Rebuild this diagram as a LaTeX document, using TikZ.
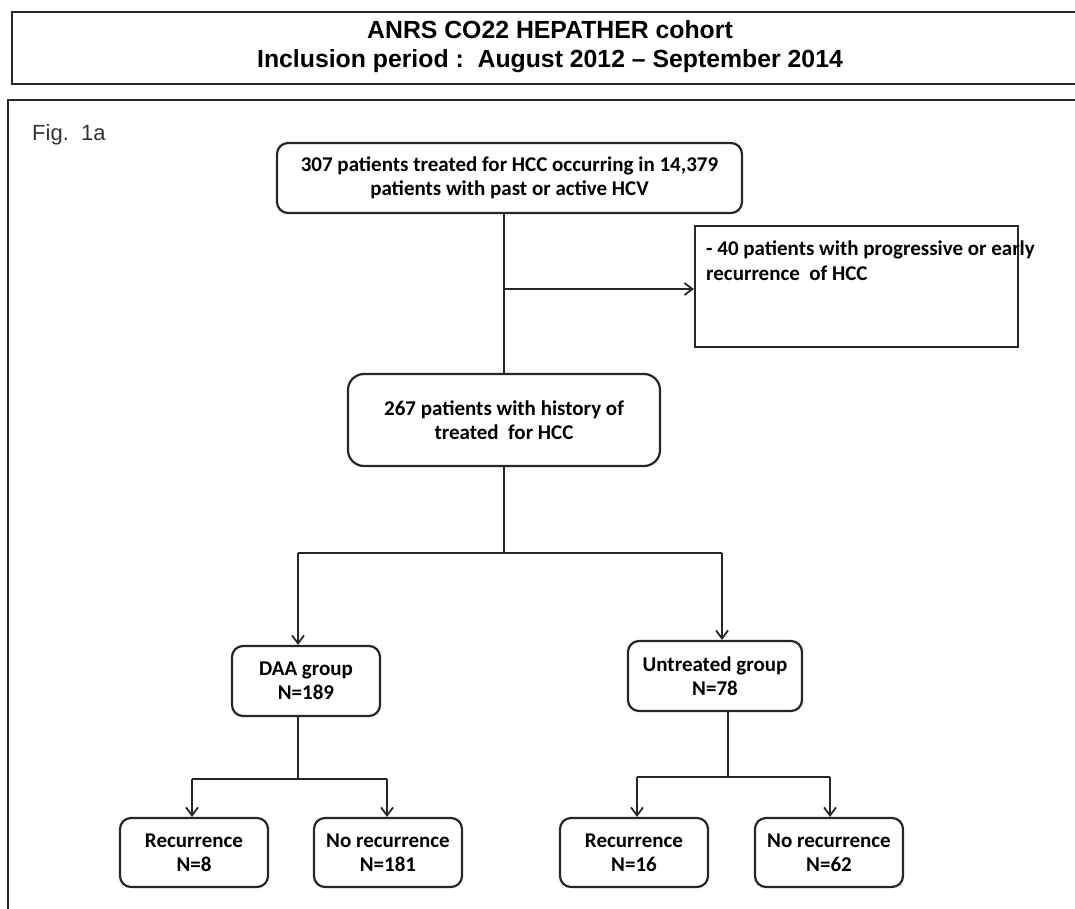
\documentclass[tikz,border=0pt]{standalone}
\usepackage{fontspec}
\setmainfont{Carlito}
\newfontfamily\arialfont{Liberation Sans}
\usetikzlibrary{arrows.meta,positioning}

\tikzset{
  link/.style={draw=black!85, line width=2.2pt},
  arr/.style={link, -{Straight Barb[length=8pt,width=12pt,line width=1.8pt]}},
  box/.style={link, rounded corners=11pt, align=center, inner sep=0pt, font=\bfseries\fontsize{21}{24}\selectfont},
  exbox/.style={link, inner sep=0pt}
}

\begin{document}
\begin{tikzpicture}[x=1pt,y=-1pt]
\useasboundingbox (0,0) rectangle (1075,908);
\clip (0,0) rectangle (1075,908);
% frames
\draw[link] (12,12) rectangle (1090,84);
\draw[link] (8,100) rectangle (1090,930);
\node[font=\arialfont\bfseries\fontsize{24.8}{29}\selectfont, align=center, inner sep=0pt, anchor=base] (title) at (550,67)
  {ANRS CO22 HEPATHER cohort\\Inclusion period :\ \ August 2012 – September 2014};
\node[font=\arialfont\fontsize{22}{26}\selectfont, text=black!80, anchor=west, inner sep=0pt] (fig) at (32,135) {Fig.\ \ 1a};

% boxes
\node[box, minimum width=465, minimum height=70] (hcc) at (509.5,178)
  {307 patients treated for HCC occurring in 14,379\\patients with past or active HCV};
\node[exbox, minimum width=323, minimum height=121] (excl) at (856.5,286.5) {};
\node[anchor=base west, align=left, inner sep=0pt, font=\bfseries\fontsize{21}{25}\selectfont] (excltxt) at (706,280)
  {- 40 patients with progressive or early\\recurrence\ \ of HCC};
\node[box, rounded corners=16pt, minimum width=312, minimum height=92] (mid) at (504,420)
  {267 patients with history of\\treated\ \ for HCC};
\node[box, minimum width=148, minimum height=70] (daa) at (306,681) {DAA group\\N=189};
\node[box, minimum width=174, minimum height=70] (untr) at (715,676) {Untreated group\\N=78};
\node[box, minimum width=148, minimum height=69] (rec1) at (194,852.5) {Recurrence\\N=8};
\node[box, minimum width=148, minimum height=69] (norec1) at (388,852.5) {No recurrence\\N=181};
\node[box, minimum width=148, minimum height=69] (rec2) at (634,852.5) {Recurrence\\N=16};
\node[box, minimum width=148, minimum height=69] (norec2) at (829,852.5) {No recurrence\\N=62};

% connectors
\coordinate (exbranch) at (504,289);
\coordinate (split) at (504,553);
\coordinate (jl) at (298,553);
\coordinate (jr) at (722,553);
\coordinate (dsplit) at (298,779);
\coordinate (dl) at (192,779);
\coordinate (dr) at (387,779);
\coordinate (usplit) at (728,777);
\coordinate (ul) at (637,777);
\coordinate (ur) at (830,777);

\draw[link] (hcc.south -| mid.north) -- (mid.north);
\draw[arr] (exbranch) -- (exbranch -| excl.west);
\draw[link] (mid.south) -- (split);
\draw[link] (jl) -- (jr);
\draw[arr] (jl) -- (jl |- daa.north);
\draw[arr] (jr) -- (jr |- untr.north);

\draw[link] (dsplit |- daa.south) -- (dsplit);
\draw[link] (dl) -- (dr);
\draw[arr] (dl) -- (dl |- rec1.north);
\draw[arr] (dr) -- (dr |- norec1.north);

\draw[link] (usplit |- untr.south) -- (usplit);
\draw[link] (ul) -- (ur);
\draw[arr] (ul) -- (ul |- rec2.north);
\draw[arr] (ur) -- (ur |- norec2.north);
\end{tikzpicture}
\end{document}
